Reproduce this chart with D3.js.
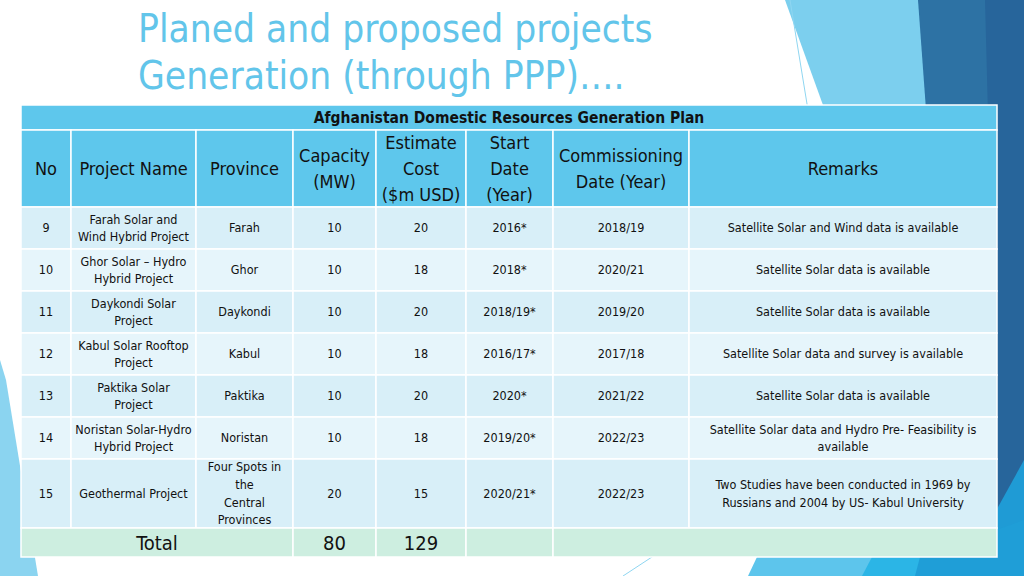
<!DOCTYPE html>
<html>
<head>
<meta charset="utf-8">
<script src="https://cdn.jsdelivr.net/npm/d3@7"></script>
<style>
  body { margin: 0; background: #fff; }
  svg { display: block; }
</style>
</head>
<body>
<svg width="1024" height="576"></svg>
<script>
// table data
const nos = [9, 10, 11, 12, 13, 14, 15];
const projectNames = [
  "Farah Solar and\nWind Hybrid Project",
  "Ghor Solar – Hydro\nHybrid Project",
  "Daykondi Solar\nProject",
  "Kabul Solar Rooftop\nProject",
  "Paktika Solar\nProject",
  "Noristan Solar-Hydro\nHybrid Project",
  "Geothermal Project"
];
const provinces = ["Farah", "Ghor", "Daykondi", "Kabul", "Paktika", "Noristan", "Four Spots in\nthe\nCentral\nProvinces"];
const capacities = [10, 10, 10, 10, 10, 10, 20];
const costs = [20, 18, 20, 18, 20, 18, 15];
const startDates = ["2016*", "2018*", "2018/19*", "2016/17*", "2020*", "2019/20*", "2020/21*"];
const commissioningDates = ["2018/19", "2020/21", "2019/20", "2017/18", "2021/22", "2022/23", "2022/23"];
const remarks = [
  "Satellite Solar and Wind data is available",
  "Satellite Solar data is available",
  "Satellite Solar data is available",
  "Satellite Solar data and survey is available",
  "Satellite Solar data is available",
  "Satellite Solar data and Hydro Pre- Feasibility is\navailable",
  "Two Studies have been conducted in 1969 by\nRussians and 2004 by US- Kabul University"
];
const headers = ["No", "Project Name", "Province", "Capacity\n(MW)", "Estimate\nCost\n($m USD)", "Start\nDate\n(Year)", "Commissioning\nDate (Year)", "Remarks"];
const tableTitle = "Afghanistan Domestic Resources Generation Plan";
const totalLabel = "Total";
const slideTitle = ["Planed and proposed projects", "Generation (through PPP)…."];

// layout
const colWidths = [50, 125, 97, 83, 90, 87, 136, 308];
const rowHeights = [42, 42, 42, 42, 42, 42, 69];
const tableX = 21, titleTop = 105, titleH = 25, headH = 77, totalH = 29;
const font = "'DejaVu Sans Condensed', 'DejaVu Sans', sans-serif";

const svg = d3.select("svg");

// background shapes
const bg = svg.append("g");
const shape = (pts, fill) => bg.append("path")
  .attr("d", d3.line()(pts) + "Z").attr("fill", fill);
shape([[785, 0], [922, 0], [940, 130], [832, 130]], "#7ccfee");
shape([[918, 0], [1024, 0], [1024, 576], [960, 576]], "#2d72a4");
shape([[985, 0], [1024, 0], [1024, 576], [1000, 576]], "#27659b");
shape([[1024, 460], [1024, 576], [960, 576]], "#1f9bd5");
shape([[757, 557], [1000, 557], [1000, 576], [748, 576]], "#5dc5ec");
shape([[872, 557], [1024, 540], [1024, 576], [862, 576]], "#2bb5e6");
shape([[920, 557], [1024, 520], [1024, 576], [915, 576]], "#1f9ed7");
shape([[0, 360], [6, 380], [38, 576], [0, 576]], "#8bd4f0");
bg.append("line").attr("x1", 790).attr("y1", 0).attr("x2", 808).attr("y2", 110)
  .attr("stroke", "#8fd6f1").attr("stroke-width", 1);
bg.append("line").attr("x1", 623).attr("y1", 576).attr("x2", 655).attr("y2", 555)
  .attr("stroke", "#8fd6f1").attr("stroke-width", 1);

// slide title
svg.append("g").selectAll("text")
  .data(slideTitle)
  .join("text")
  .attr("x", 138)
  .attr("y", (d, i) => 42 + i * 47)
  .attr("font-family", font)
  .attr("font-size", 38.5)
  .attr("fill", "#62c5ea")
  .text(d => d);

// scales for columns and rows
const colEdges = d3.cumsum([0, ...colWidths]).map(v => v + tableX);
const x = d3.scaleOrdinal().domain(d3.range(colWidths.length)).range(colEdges.slice(0, -1));
const w = d3.scaleOrdinal().domain(d3.range(colWidths.length)).range(colWidths);
const tableW = d3.sum(colWidths);
const bodyTop = titleTop + titleH + headH;
const rowEdges = d3.cumsum([0, ...rowHeights]).map(v => v + bodyTop);
const y = d3.scaleOrdinal().domain(d3.range(nos.length)).range(rowEdges.slice(0, -1));
const h = d3.scaleOrdinal().domain(d3.range(nos.length)).range(rowHeights);
const totalTop = rowEdges[rowEdges.length - 1];

const table = svg.append("g");

function cell(x0, y0, cw, ch, fill, txt, size, weight, lineH) {
  table.append("rect")
    .attr("x", x0).attr("y", y0).attr("width", cw).attr("height", ch)
    .attr("fill", fill).attr("stroke", "#fff").attr("stroke-width", 1.5);
  const lines = String(txt).split("\n");
  const t = table.append("text")
    .attr("font-family", font)
    .attr("font-size", size)
    .attr("font-weight", weight || "normal")
    .attr("fill", "#111")
    .attr("text-anchor", "middle");
  t.selectAll("tspan")
    .data(lines)
    .join("tspan")
    .attr("x", x0 + cw / 2)
    .attr("y", (d, i) => y0 + ch / 2 + (i - (lines.length - 1) / 2) * lineH)
    .attr("dy", "0.35em")
    .text(d => d);
}

// title row
cell(tableX, titleTop, tableW, titleH, "#5ec7ec", tableTitle, 15.5, "bold", 0);

// header row
headers.forEach((hd, i) => cell(x(i), titleTop + titleH, w(i), headH, "#5ec7ec", hd, 18, "normal", 26));

// body rows
const columns = [nos, projectNames, provinces, capacities, costs, startDates, commissioningDates, remarks];
nos.forEach((n, r) => {
  const fill = r % 2 === 0 ? "#d8eff8" : "#e6f5fb";
  columns.forEach((col, c) => cell(x(c), y(r), w(c), h(r), fill, col[r], 12.5, "normal", 17.7));
});

// total row
const totalFill = "#cdeee0";
cell(x(0), totalTop, w(0) + w(1) + w(2), totalH, totalFill, totalLabel, 20, "normal", 0);
cell(x(3), totalTop, w(3), totalH, totalFill, d3.sum(capacities), 20, "normal", 0);
cell(x(4), totalTop, w(4), totalH, totalFill, d3.sum(costs), 20, "normal", 0);
cell(x(5), totalTop, w(5), totalH, totalFill, "", 20, "normal", 0);
cell(x(6), totalTop, w(6) + w(7), totalH, totalFill, "", 20, "normal", 0);
</script>
</body>
</html>
